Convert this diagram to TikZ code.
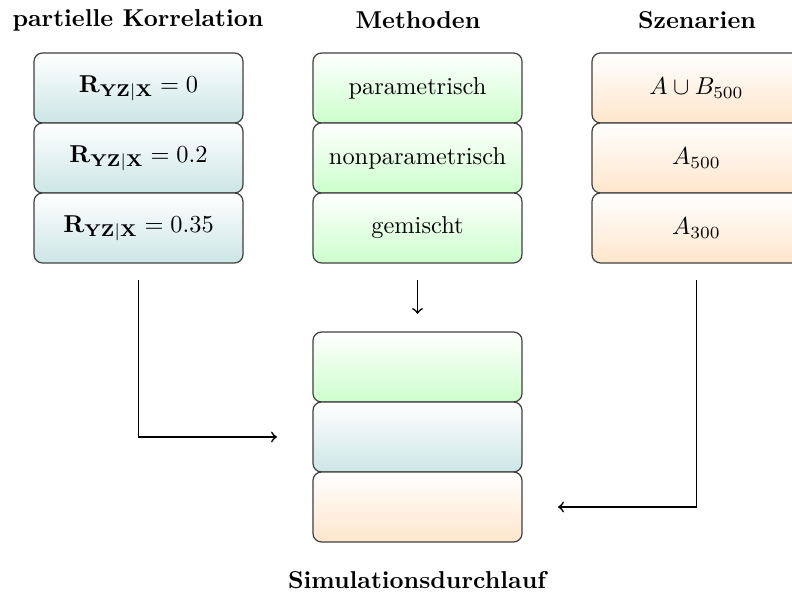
\documentclass[tikz,border=0pt]{standalone}
\usetikzlibrary{calc}
\begin{document}
\begin{tikzpicture}[x=0.41pt,y=-0.41pt,
  cell/.style={draw=black!75, line width=0.5pt, rounded corners=3.5pt,
    minimum width=85.7pt, minimum height=28.7pt, inner sep=0pt, outer sep=0pt},
  korr/.style={cell, top color=white, bottom color=teal!20},
  meth/.style={cell, top color=white, bottom color=green!20},
  szen/.style={cell, top color=white, bottom color=orange!20},
  title/.style={font=\bfseries, inner sep=0pt},
  conn/.style={->, line width=0.7pt}]
\useasboundingbox (0,0) rectangle (792,593);
\clip (0,0) rectangle (792,593);
% titles
\node[title] (tk) at (138,20) {partielle Korrelation};
\node[title] (tm) at (418,20) {Methoden};
\node[title] (tz) at (697,20) {Szenarien};
\node[title] (ts) at (417,580) {Simulationsdurchlauf};
% left column
\node[korr] (k1) at (138.5,88) {$\mathbf{R}_{\mathbf{YZ|X}} = 0$};
\node[korr] (k2) at (138.5,158) {$\mathbf{R}_{\mathbf{YZ|X}} = 0.2$};
\node[korr] (k3) at (138.5,228) {$\mathbf{R}_{\mathbf{YZ|X}} = 0.35$};
% middle column
\node[meth] (m1) at (417.5,88) {parametrisch};
\node[meth] (m2) at (417.5,158) {nonparametrisch};
\node[meth] (m3) at (417.5,228) {gemischt};
% right column
\node[szen] (z1) at (696.5,88) {$A \cup B_{500}$};
\node[szen] (z2) at (696.5,158) {$A_{500}$};
\node[szen] (z3) at (696.5,228) {$A_{300}$};
% simulation stack
\node[meth] (s1) at (417.5,367) {};
\node[korr] (s2) at (417.5,437) {};
\node[szen] (s3) at (417.5,507) {};
% connectors
\draw[conn] ($(k3.south)+(0,17)$) |- ($(s2.west)+(-36,0)$);
\draw[conn] ($(m3.south)+(0,17)$) -- ($(s1.north)+(0,-18)$);
\draw[conn] ($(z3.south)+(0,17)$) |- ($(s3.east)+(36,0)$);
\end{tikzpicture}
\end{document}
